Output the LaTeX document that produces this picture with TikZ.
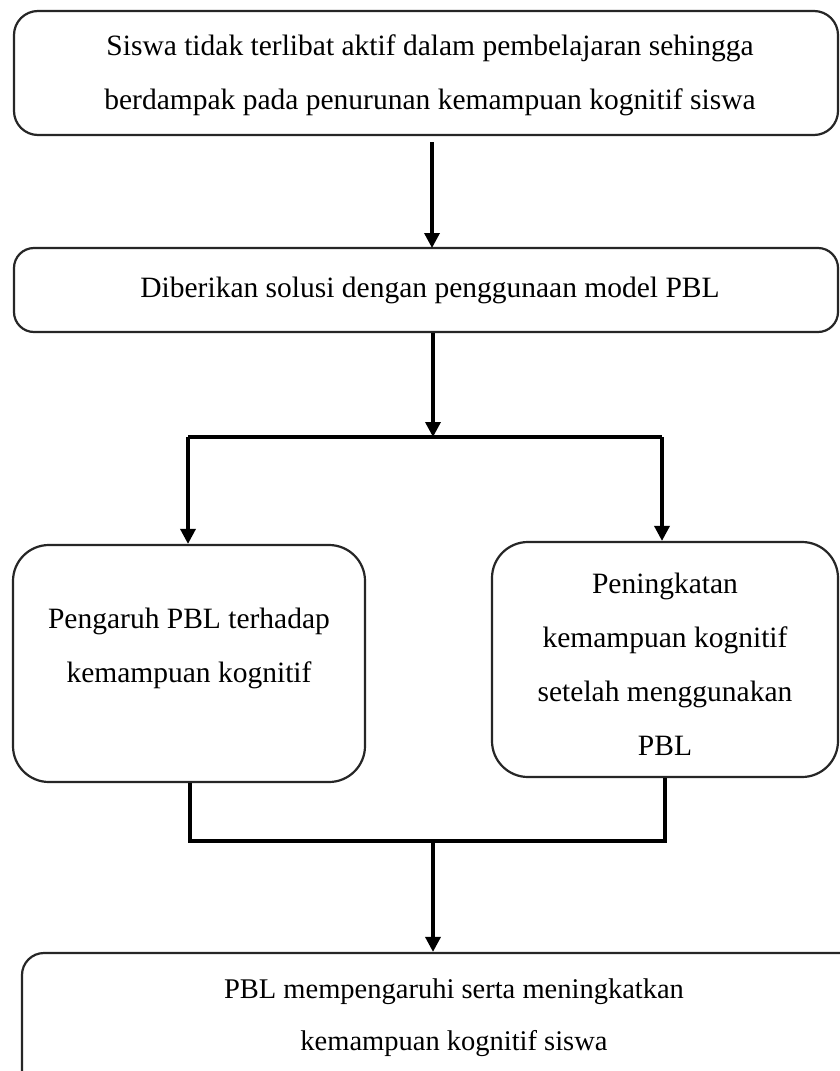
\documentclass[tikz,border=0pt]{standalone}
\usepackage{fontspec}
\setmainfont{Liberation Serif}
\usetikzlibrary{arrows.meta}
\begin{document}
\begin{tikzpicture}[x=1pt,y=-1pt,
  box/.style={draw=black!85,line width=2.2pt,rounded corners=#1,inner sep=0pt,align=center},
  box/.default=24pt,
  txt/.style={font=\fontsize{29.5}{54}\selectfont,align=center,inner sep=0pt},
  conn/.style={line width=3.4pt},
  arr/.style={conn,-{Triangle[length=15pt,width=15pt]}}]
\useasboundingbox (0,0) rectangle (840,1071);
\fill[white] (0,0) rectangle (840,1071);
% boxes
\node[box, minimum width=824pt, minimum height=124pt] (b1) at (426,73) {};
\node[txt] (t1) at (430,75) {Siswa tidak terlibat aktif dalam pembelajaran sehingga\\berdampak pada penurunan kemampuan kognitif siswa};
\node[box=20pt, minimum width=824pt, minimum height=84pt] (b2) at (426,290) {};
\node[txt] (t2) at (430,290) {Diberikan solusi dengan penggunaan model PBL};
\node[box=36pt, minimum width=352pt, minimum height=237pt] (b3) at (189,663.5) {};
\node[txt] (t3) at (189,648) {Pengaruh PBL terhadap\\kemampuan kognitif};
\node[box=36pt, minimum width=346pt, minimum height=235pt] (b4) at (665,659.5) {};
\node[txt] (t4) at (665,664) {Peningkatan\\kemampuan kognitif\\setelah menggunakan\\PBL};
\node[box=22pt, minimum width=840pt, minimum height=160pt] (b5) at (442,1033) {};
\node[txt, font=\fontsize{28.5}{52}\selectfont] (t5) at (454,1018) {PBL mempengaruhi serta meningkatkan\\kemampuan kognitif siswa};
% connectors
\coordinate (s1) at (188,437);
\coordinate (s2) at (662,437);
\coordinate (sm) at (433,437);
\coordinate (j1) at (190,841);
\coordinate (j2) at (665,841);
\coordinate (jm) at (433,841);
\draw[arr] (b1.south -| 432,0) ++(0,6) -- (432,248);
\draw[arr] (b2.south -| 433,0) -- (sm);
\draw[conn] (s1) -- (s2);
\draw[arr] (s1) -- (s1 |- b3.north);
\draw[arr] (s2) -- (s2 |- b4.north);
\draw[conn] (j1 |- b3.south) -- (j1) -- (j2) -- (j2 |- b4.south);
\draw[arr] (jm) -- (jm |- b5.north);
\end{tikzpicture}
\end{document}
